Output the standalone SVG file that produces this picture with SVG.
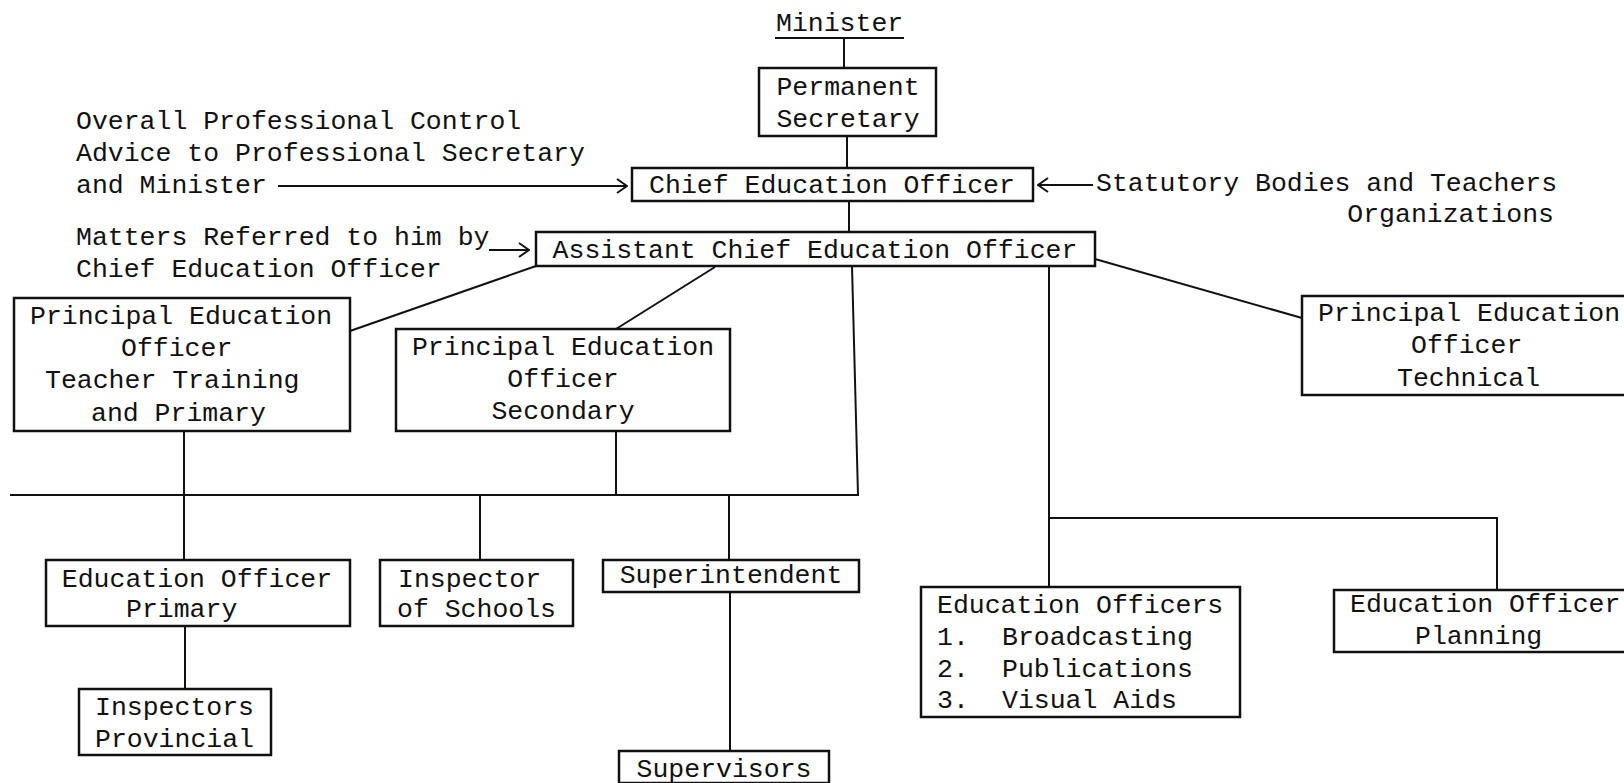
<svg xmlns="http://www.w3.org/2000/svg" width="1624" height="783" viewBox="0 0 1624 783">
<style>
  text { font-family: "Liberation Mono", "DejaVu Sans Mono", monospace; font-size: 26.5px; fill: #111; }
  .c { text-anchor: middle; }
  .box { fill: #fff; stroke: #111; stroke-width: 2.5; }
  .ln { fill: none; stroke: #111; stroke-width: 2; }
</style>
<defs>
  <marker id="arr" viewBox="0 0 12 16" refX="11" refY="8" markerWidth="12" markerHeight="16" markerUnits="userSpaceOnUse" orient="auto">
    <path d="M1,1 L11,8 L1,15" fill="none" stroke="#111" stroke-width="2"/>
  </marker>
</defs>
<rect width="1624" height="783" fill="#fff"/>

<g id="connectors" class="ln">
  <line x1="844" y1="38" x2="844" y2="68"/>
  <line x1="847" y1="136" x2="847" y2="168"/>
  <line x1="849" y1="201" x2="849" y2="232"/>
  <line x1="278" y1="186" x2="627" y2="186" marker-end="url(#arr)"/>
  <line x1="1093" y1="185" x2="1038" y2="185" marker-end="url(#arr)"/>
  <line x1="489" y1="250" x2="529" y2="250" marker-end="url(#arr)"/>
  <line x1="536" y1="266" x2="350" y2="331"/>
  <line x1="715" y1="267" x2="616" y2="329"/>
  <polyline points="852,266 858,495 10,495"/>
  <line x1="1095" y1="259" x2="1302" y2="318"/>
  <line x1="1049" y1="266" x2="1049" y2="587"/>
  <polyline points="1049,518 1497,518 1497,590"/>
  <line x1="184" y1="431" x2="184" y2="560"/>
  <line x1="616" y1="431" x2="616" y2="495"/>
  <line x1="480" y1="495" x2="480" y2="560"/>
  <line x1="729" y1="495" x2="729" y2="560"/>
  <line x1="185" y1="626" x2="185" y2="689"/>
  <line x1="730" y1="592" x2="730" y2="751"/>
</g>

<g id="minister">
  <text x="776" y="31">Minister</text>
  <line x1="775" y1="38" x2="904" y2="38" class="ln"/>
</g>

<g id="permanent-secretary">
  <rect class="box" x="759" y="68" width="177" height="68"/>
  <text class="c" x="848" y="95">Permanent</text>
  <text class="c" x="848" y="127">Secretary</text>
</g>

<g id="chief-education-officer">
  <rect class="box" x="632" y="168" width="401" height="33"/>
  <text class="c" x="832" y="193">Chief Education Officer</text>
</g>

<g id="note-left-top">
  <text x="76" y="129">Overall Professional Control</text>
  <text x="76" y="161">Advice to Professional Secretary</text>
  <text x="76" y="193">and Minister</text>
</g>

<g id="note-right">
  <text x="1096" y="191">Statutory Bodies and Teachers</text>
  <text x="1554" y="222" text-anchor="end">Organizations</text>
</g>

<g id="note-left-matters">
  <text x="76" y="245">Matters Referred to him by</text>
  <text x="76" y="277">Chief Education Officer</text>
</g>

<g id="assistant-chief-education-officer">
  <rect class="box" x="536" y="232" width="559" height="34"/>
  <text class="c" x="815" y="258">Assistant Chief Education Officer</text>
</g>

<g id="peo-teacher-training">
  <rect class="box" x="14" y="298" width="336" height="133"/>
  <text x="30" y="324">Principal Education</text>
  <text x="121" y="356">Officer</text>
  <text x="45" y="388">Teacher Training</text>
  <text x="91" y="421">and Primary</text>
</g>

<g id="peo-secondary">
  <rect class="box" x="396" y="329" width="334" height="102"/>
  <text class="c" x="563" y="355">Principal Education</text>
  <text class="c" x="563" y="387">Officer</text>
  <text class="c" x="563" y="419">Secondary</text>
</g>

<g id="peo-technical">
  <rect class="box" x="1302" y="296" width="340" height="99"/>
  <text x="1318" y="321">Principal Education</text>
  <text x="1411" y="353">Officer</text>
  <text x="1397" y="386">Technical</text>
</g>

<g id="education-officer-primary">
  <rect class="box" x="46" y="560" width="304" height="66"/>
  <text class="c" x="197" y="587">Education Officer</text>
  <text x="126" y="617">Primary</text>
</g>

<g id="inspectors-provincial">
  <rect class="box" x="79" y="689" width="192" height="66"/>
  <text x="95" y="715">Inspectors</text>
  <text x="95" y="747">Provincial</text>
</g>

<g id="inspector-of-schools">
  <rect class="box" x="380" y="560" width="193" height="66"/>
  <text x="398" y="587">Inspector</text>
  <text x="397" y="617">of Schools</text>
</g>

<g id="superintendent">
  <rect class="box" x="603" y="560" width="256" height="32"/>
  <text class="c" x="731" y="583">Superintendent</text>
</g>

<g id="supervisors">
  <rect class="box" x="619" y="751" width="210" height="32"/>
  <text class="c" x="724" y="777">Supervisors</text>
</g>

<g id="education-officers">
  <rect class="box" x="921" y="587" width="319" height="130"/>
  <text x="937" y="613">Education Officers</text>
  <text x="937" y="645">1.</text><text x="1002" y="645">Broadcasting</text>
  <text x="937" y="677">2.</text><text x="1002" y="677">Publications</text>
  <text x="937" y="708">3.</text><text x="1002" y="708">Visual Aids</text>
</g>

<g id="education-officer-planning">
  <rect class="box" x="1334" y="590" width="310" height="62"/>
  <text x="1350" y="612">Education Officer</text>
  <text x="1415" y="644">Planning</text>
</g>
</svg>
